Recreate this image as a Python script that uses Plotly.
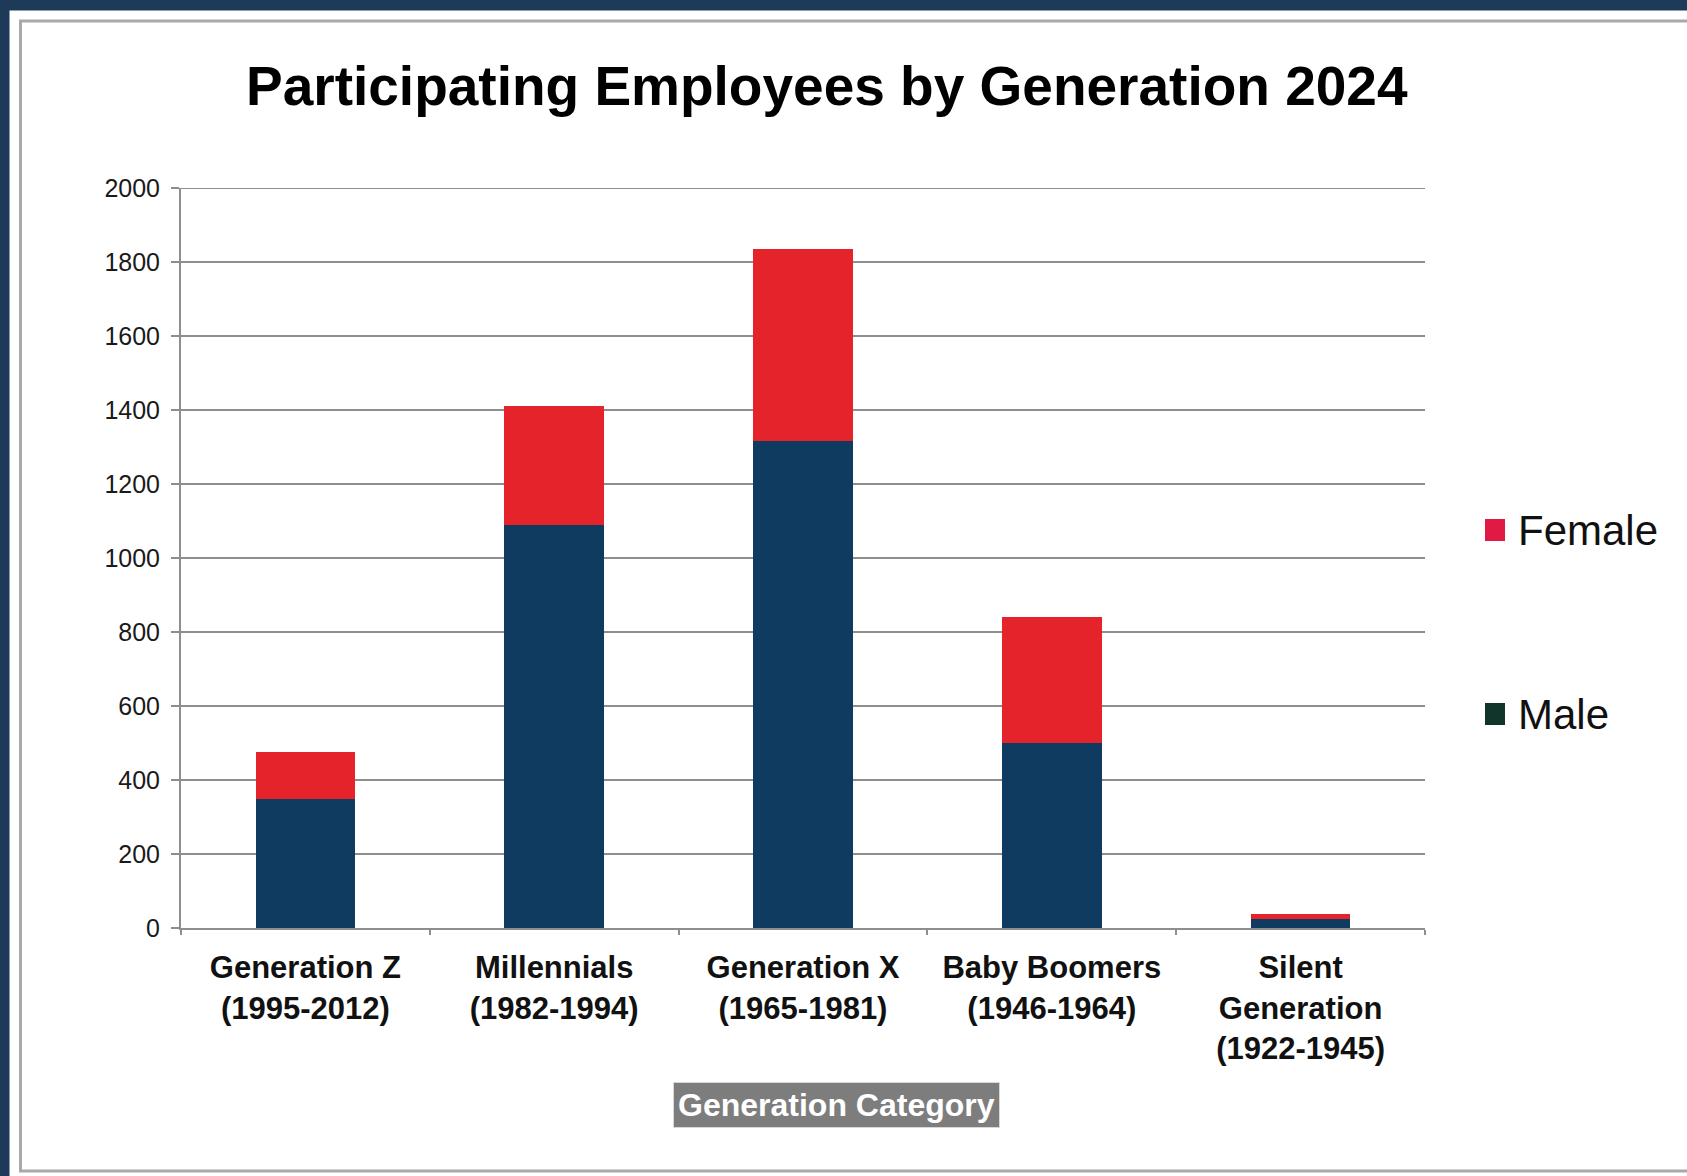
import plotly.graph_objects as go

# Chart data
categories = [
    "Generation Z<br>(1995-2012)",
    "Millennials<br>(1982-1994)",
    "Generation X<br>(1965-1981)",
    "Baby Boomers<br>(1946-1964)",
    "Silent<br>Generation<br>(1922-1945)",
]
male = [350, 1090, 1315, 500, 25]
female = [125, 320, 520, 340, 13]
series_names = ["Female", "Male"]
y_ticks = list(range(0, 2001, 200))

# Colours
NAVY_FRAME = "#1d3a58"
MALE_BAR = "#0e3b5f"
FEMALE_BAR = "#e5232a"
FEMALE_KEY = "#e01a44"
MALE_KEY = "#11352b"
GRID = "#8e8e8e"
FONT = "Liberation Sans, Arial, sans-serif"

# Page geometry (pixels) used to place decorations in paper coordinates
W, H = 1687, 1176
L, R, T, B = 181, 1425, 188, 928


def px(x):
    return (x - L) / (R - L)


def py(y):
    return (B - y) / (B - T)


fig = go.Figure()
fig.add_trace(go.Bar(x=categories, y=male, name="Male", marker=dict(color=MALE_BAR, line=dict(width=0)),
                     showlegend=False))
fig.add_trace(go.Bar(x=categories, y=female, name="Female", marker=dict(color=FEMALE_BAR, line=dict(width=0)),
                     showlegend=False))

shapes = [
    # dark frame along the top and left edges
    dict(type="rect", xref="paper", yref="paper", x0=px(0), x1=px(W), y0=py(10.5), y1=py(0),
         fillcolor=NAVY_FRAME, line=dict(width=0), layer="below"),
    dict(type="rect", xref="paper", yref="paper", x0=px(0), x1=px(9.5), y0=py(H), y1=py(0),
         fillcolor=NAVY_FRAME, line=dict(width=0), layer="below"),
    # grey card border
    dict(type="rect", xref="paper", yref="paper", x0=px(20.5), x1=px(1700), y0=py(1171), y1=py(21),
         fillcolor="rgba(0,0,0,0)", line=dict(color="#a9a9a9", width=3), layer="below"),
    # top gridline at the end of the value range
    dict(type="line", xref="paper", yref="y", x0=px(172), x1=1, y0=y_ticks[-1], y1=y_ticks[-1],
         line=dict(color=GRID, width=2), layer="below"),
]

annotations = [
    dict(text="<b>Participating Employees by Generation 2024</b>", xref="paper", yref="paper",
         x=px(827), y=py(86), xanchor="center", yanchor="middle", showarrow=False,
         font=dict(family=FONT, size=55, color="#000000")),
    dict(text="<b>Generation Category</b>", xref="paper", yref="paper",
         x=px(836), y=py(1105), xanchor="center", yanchor="middle", showarrow=False,
         font=dict(family=FONT, size=32, color="#ffffff"), bgcolor="#7d7d7d",
         bordercolor="#d8d8d8", borderwidth=1, borderpad=4),
]

# Legend keys drawn beside the plot
key_rows = {"Female": (FEMALE_KEY, 530), "Male": (MALE_KEY, 714)}
for name in series_names:
    color, yc = key_rows[name]
    shapes.append(dict(type="rect", xref="paper", yref="paper", x0=px(1485), x1=px(1505),
                       y0=py(yc + 11), y1=py(yc - 11), fillcolor=color, line=dict(width=0)))
    annotations.append(dict(text=name, xref="paper", yref="paper", x=px(1516), y=py(yc),
                            xanchor="left", yanchor="middle", showarrow=False,
                            font=dict(family=FONT, size=42, color="#111111")))

fig.update_layout(
    barmode="stack",
    bargap=0.6,
    width=W,
    height=H,
    margin=dict(l=L, r=W - R, t=T, b=H - B),
    paper_bgcolor="#ffffff",
    plot_bgcolor="rgba(0,0,0,0)",
    shapes=shapes,
    annotations=annotations,
    showlegend=False,
    font=dict(family=FONT),
)

fig.update_yaxes(
    range=[0, 2000],
    tickvals=y_ticks,
    ticktext=[str(v) for v in y_ticks],
    showgrid=True,
    gridcolor=GRID,
    gridwidth=2,
    showline=True,
    linecolor=GRID,
    linewidth=2,
    ticks="outside",
    ticklen=8,
    tickcolor=GRID,
    tickwidth=2,
    tickfont=dict(family=FONT, size=25, color="#1a1a1a"),
    ticklabelstandoff=6,
    zeroline=False,
)

fig.update_xaxes(
    showline=True,
    linecolor=GRID,
    linewidth=2,
    ticks="outside",
    tickson="boundaries",
    ticklen=5,
    tickcolor=GRID,
    tickwidth=2,
    tickfont=dict(family=FONT, size=31, color="#111111", weight="bold"),
    ticklabelstandoff=11,
)

fig.write_html("out.html")
